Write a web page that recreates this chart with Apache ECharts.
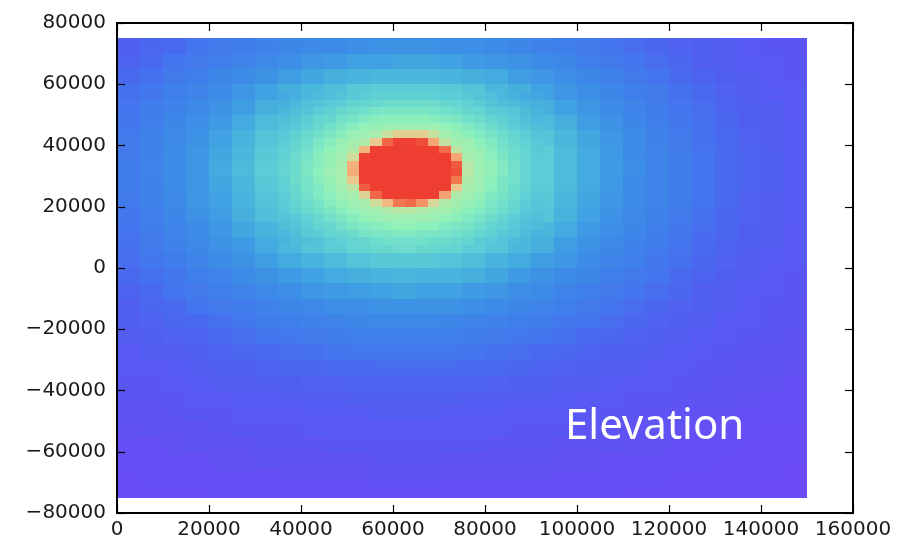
<!DOCTYPE html>
<html>
<head>
<meta charset="utf-8">
<script src="https://cdn.jsdelivr.net/npm/echarts/dist/echarts.min.js"></script>
<style>
html,body{margin:0;padding:0;background:#ffffff;}
#chart{width:902px;height:542px;}
</style>
</head>
<body>
<div id="chart"></div>
<script>
// Coarse raster: cell centres (data units), 5000 x 5000 cells over the whole map
const xCenters = [2500,7500,12500,17500,22500,27500,32500,37500,42500,47500,52500,57500,62500,67500,72500,77500,82500,87500,92500,97500,102500,107500,112500,117500,122500,127500,132500,137500,142500,147500];
const yCenters = [-72500,-67500,-62500,-57500,-52500,-47500,-42500,-37500,-32500,-27500,-22500,-17500,-12500,-7500,-2500,2500,7500,12500,17500,22500,27500,32500,37500,42500,47500,52500,57500,62500,67500,72500];
const cellSize = 5000;
// Elevation (relative colour scale 0..100, peak clipped), row 0 = y -72500 (bottom)
const elevationRows = [
[2,3,3,3,4,4,4,5,5,5,5,5,5,5,5,5,5,5,4,4,4,4,3,3,2,2,2,2,1,1],
[3,4,4,4,5,5,5,6,6,6,6,7,7,7,6,6,6,6,6,5,5,4,4,4,3,3,2,2,2,1],
[4,4,5,5,6,6,7,7,7,7,7,8,8,8,7,7,7,7,7,6,6,5,5,5,4,4,3,3,2,2],
[5,5,6,7,7,7,8,8,8,9,9,9,9,9,9,9,8,8,8,7,7,7,6,6,5,4,4,3,3,2],
[6,7,7,7,8,9,9,9,10,10,10,10,10,10,10,10,10,9,9,9,8,8,7,7,6,5,5,4,3,3],
[7,7,8,9,9,10,10,10,11,11,11,12,12,12,11,11,11,10,10,10,9,9,8,7,7,6,6,5,4,4],
[8,8,9,10,10,11,11,12,12,12,13,13,13,13,13,12,12,12,12,11,10,10,9,9,8,7,7,6,5,4],
[9,9,10,11,12,12,13,13,14,14,15,15,15,15,15,15,14,13,13,12,12,11,10,10,9,8,7,7,6,5],
[10,10,11,12,13,13,15,16,16,17,17,18,18,18,18,17,17,16,15,14,13,12,12,10,10,9,8,7,7,6],
[10,12,12,13,15,16,17,18,19,20,21,21,21,21,21,20,19,18,17,16,15,13,13,12,11,10,9,8,7,7],
[12,13,14,15,17,18,20,21,22,23,24,24,24,24,24,23,22,21,20,19,17,16,14,13,12,11,10,9,8,7],
[13,14,16,17,19,21,23,24,25,26,27,28,28,28,27,26,25,24,23,21,20,18,16,14,13,12,10,10,9,8],
[13,16,17,20,22,23,25,27,28,30,30,31,31,31,31,30,29,27,26,24,22,20,18,16,14,13,12,10,9,8],
[15,17,20,22,24,26,28,30,32,33,34,35,36,35,35,33,32,30,29,26,24,22,20,18,16,13,12,11,10,9],
[17,19,21,24,26,29,31,33,35,37,38,39,40,39,39,38,36,33,31,29,27,24,22,20,17,15,13,12,10,9],
[18,21,23,26,29,31,34,37,39,41,43,44,44,44,43,42,39,37,34,32,29,26,24,21,19,16,14,12,11,10],
[19,22,25,28,31,33,37,40,43,45,47,48,49,48,47,45,43,40,38,34,31,28,25,23,20,17,15,13,12,10],
[20,23,26,29,32,36,39,43,46,49,52,53,54,54,52,49,47,43,40,37,33,30,27,24,21,18,16,13,12,10],
[21,24,27,31,34,38,42,45,49,53,57,60,63,61,57,54,50,46,43,39,35,31,28,25,22,19,16,14,12,11],
[22,25,28,32,35,39,43,47,52,57,67,95,100,98,72,58,53,48,44,40,36,32,29,26,23,20,17,14,12,11],
[23,25,29,32,36,40,44,49,54,60,85,100,100,100,95,63,55,50,45,41,37,33,29,26,23,20,17,15,13,11],
[23,26,29,32,37,41,45,49,54,62,90,100,100,100,97,67,56,50,45,41,37,33,30,26,23,20,17,15,13,11],
[22,25,29,32,36,40,44,48,53,59,80,100,100,100,90,61,54,49,45,41,37,33,29,26,23,20,17,15,13,11],
[22,25,28,31,35,39,43,47,51,55,61,75,88,80,62,56,52,47,43,40,36,32,29,25,22,19,17,14,12,11],
[21,24,27,30,33,37,41,44,47,51,54,56,57,56,54,51,48,45,41,38,34,31,27,24,21,19,16,13,12,11],
[20,23,25,28,31,34,38,41,44,46,49,50,51,50,49,47,44,42,38,35,32,29,26,23,20,18,15,13,12,10],
[19,21,24,26,29,32,35,38,40,42,44,45,45,45,44,43,40,38,35,32,30,27,24,22,19,17,14,12,11,10],
[17,19,22,24,27,29,31,34,36,38,39,40,40,40,39,38,37,34,32,30,27,25,22,20,17,15,13,12,10,9],
[15,17,20,22,24,26,28,30,32,33,35,35,36,36,35,33,32,31,29,27,24,22,20,18,16,13,12,11,10,9],
[13,16,17,20,22,23,25,27,28,29,30,31,31,31,30,30,29,27,25,24,22,20,18,16,14,13,12,10,9,8]
];
// Fine raster around the peak: 2500 x 2500 cells, x 35000..92500, y 7500..57500
const fineXCenters = [36250,38750,41250,43750,46250,48750,51250,53750,56250,58750,61250,63750,66250,68750,71250,73750,76250,78750,81250,83750,86250,88750,91250];
const fineYCenters = [8750,11250,13750,16250,18750,21250,23750,26250,28750,31250,33750,36250,38750,41250,43750,46250,48750,51250,53750,56250];
const fineCellSize = 2500;
const fineRows = [
[39,41,42,43,45,46,47,48,49,50,50,50,50,49,49,48,47,45,44,43,41,40,38],
[40,42,44,45,47,48,49,51,52,52,53,53,52,52,51,50,49,47,46,44,43,41,39],
[42,43,45,47,48,50,52,53,54,55,56,56,55,55,53,52,51,49,47,46,44,42,41],
[43,44,46,48,50,52,54,56,57,58,58,58,58,58,56,55,53,51,49,47,45,43,42],
[44,46,48,50,52,54,56,58,59,61,62,62,61,60,59,57,55,53,51,49,47,44,43],
[45,47,49,51,54,56,58,60,65,72,85,87,80,66,61,59,57,55,52,50,48,45,43],
[45,48,50,53,55,58,60,67,88,100,100,100,100,100,77,61,59,56,53,51,49,46,44],
[46,48,51,53,56,59,63,90,100,100,100,100,100,100,100,69,60,58,55,52,49,47,45],
[46,49,51,54,57,60,69,100,100,100,100,100,100,100,100,85,61,58,55,52,50,47,45],
[47,49,52,55,58,60,75,100,100,100,100,100,100,100,100,92,62,58,56,53,50,47,45],
[47,49,52,54,57,60,74,100,100,100,100,100,100,100,100,90,62,58,56,53,50,47,45],
[46,49,51,54,57,59,65,97,100,100,100,100,100,100,100,76,60,58,55,52,49,47,45],
[46,48,50,53,56,58,61,73,100,100,100,100,100,100,87,63,59,57,54,51,49,47,44],
[45,47,49,52,54,57,59,61,69,88,97,98,93,76,63,59,58,55,53,50,48,46,44],
[44,46,48,50,52,54,57,58,60,64,68,68,68,64,59,57,55,53,51,49,47,45,43],
[43,44,46,48,50,52,54,56,57,58,58,58,58,58,56,55,53,51,49,47,45,43,42],
[42,43,45,47,48,50,51,53,54,55,55,55,55,54,53,52,50,49,47,46,44,42,40],
[40,42,43,45,46,48,49,50,51,52,52,52,52,51,50,49,48,47,45,44,43,41,39],
[38,40,42,43,44,45,47,47,48,49,49,49,49,49,48,47,46,45,43,42,41,39,38],
[37,38,40,41,42,43,44,45,46,46,46,46,46,46,45,45,44,43,42,40,39,37,36]
];
// Axis ranges / ticks
const xRange = [0, 160000], xStep = 20000;
const yRange = [-80000, 80000], yStep = 20000;
const colorStops = ['#6e4af8','#6450f5','#5858f2','#4d64f0','#4474ee','#3e82ea','#3c8ee6','#40a2e2','#4ab8dc','#5acdd6','#72e0ca','#8cf0bc','#a8eeae','#d0dc9c','#f0c48a','#f4ac78','#f49466','#f27850','#f05a40','#ee4436','#ee3e32'];

function buildCells(xs, ys, rows) {
  const out = [];
  for (let j = 0; j < ys.length; j++) {
    for (let i = 0; i < xs.length; i++) out.push([xs[i], ys[j], rows[j][i]]);
  }
  return out;
}
function cellRenderer(size) {
  return function (params, api) {
    const x = api.value(0), y = api.value(1), h = size / 2;
    const p0 = api.coord([x - h, y + h]);
    const p1 = api.coord([x + h, y - h]);
    const x0 = Math.round(p0[0]), y0 = Math.round(p0[1]);
    const x1 = Math.round(p1[0]), y1 = Math.round(p1[1]);
    return { type: 'rect', shape: { x: x0, y: y0, width: x1 - x0, height: y1 - y0 },
             style: { fill: api.visual('color') } };
  };
}

const fmt = v => (v < 0 ? '\u2212' + Math.abs(v) : String(v));
const lineStyle = { color: '#000', width: 2 };
const tickStyle = { color: '#000', width: 1.2 };
const labelFont = { color: '#1a1a1a', fontSize: 20, fontFamily: '"DejaVu Sans", sans-serif' };

const chart = echarts.init(document.getElementById('chart'), null, { renderer: 'canvas' });
chart.setOption({
  backgroundColor: '#ffffff',
  animation: false,
  grid: { left: 117, right: 49, top: 23, bottom: 29, containLabel: false },
  xAxis: [
    { type: 'value', min: xRange[0], max: xRange[1], interval: xStep, position: 'bottom', z: 5,
      axisLine: { show: true, onZero: false, lineStyle },
      axisTick: { show: true, inside: true, length: 8, lineStyle: tickStyle },
      axisLabel: Object.assign({ margin: 7, formatter: fmt }, labelFont),
      splitLine: { show: false } },
    { type: 'value', min: xRange[0], max: xRange[1], interval: xStep, position: 'top', z: 5,
      axisLine: { show: true, onZero: false, lineStyle },
      axisTick: { show: true, inside: true, length: 8, lineStyle: tickStyle },
      axisLabel: { show: false }, splitLine: { show: false } }
  ],
  yAxis: [
    { type: 'value', min: yRange[0], max: yRange[1], interval: yStep, position: 'left', z: 5,
      axisLine: { show: true, onZero: false, lineStyle },
      axisTick: { show: true, inside: true, length: 8, lineStyle: tickStyle },
      axisLabel: Object.assign({ margin: 11, formatter: fmt }, labelFont),
      splitLine: { show: false } },
    { type: 'value', min: yRange[0], max: yRange[1], interval: yStep, position: 'right', z: 5,
      axisLine: { show: true, onZero: false, lineStyle },
      axisTick: { show: true, inside: true, length: 8, lineStyle: tickStyle },
      axisLabel: { show: false }, splitLine: { show: false } }
  ],
  visualMap: {
    type: 'continuous', show: false, min: 0, max: 100, dimension: 2, seriesIndex: [0, 1],
    inRange: { color: colorStops }
  },
  series: [{
    type: 'custom', name: 'Elevation', xAxisIndex: 0, yAxisIndex: 0, z: 1,
    data: buildCells(xCenters, yCenters, elevationRows),
    encode: { x: 0, y: 1 },
    renderItem: cellRenderer(cellSize)
  }, {
    type: 'custom', name: 'Elevation (peak detail)', xAxisIndex: 0, yAxisIndex: 0, z: 2,
    data: buildCells(fineXCenters, fineYCenters, fineRows),
    encode: { x: 0, y: 1 },
    renderItem: cellRenderer(fineCellSize)
  }],
  graphic: [{
    type: 'text', left: 565, top: 406, z: 10,
    style: { text: 'Elevation', fill: '#ffffff', font: '42px "Noto Sans", "Open Sans", sans-serif' }
  }]
});
</script>
</body>
</html>
